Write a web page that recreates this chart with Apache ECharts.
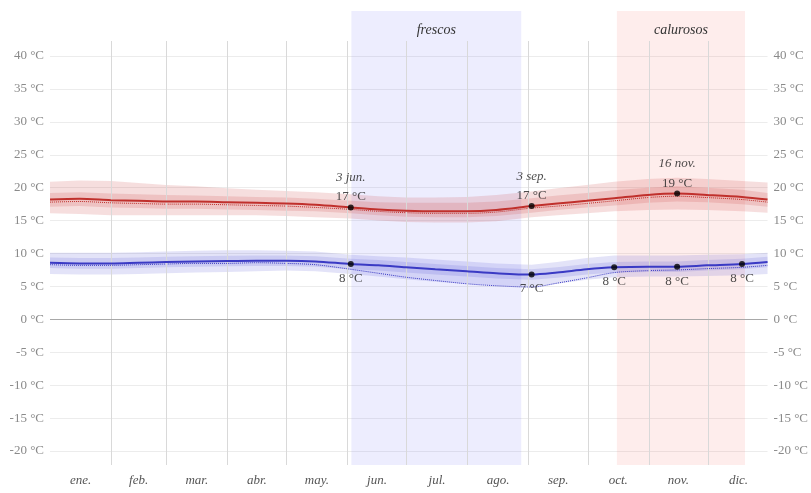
<!DOCTYPE html>
<html>
<head>
<meta charset="utf-8">
<script src="https://cdn.jsdelivr.net/npm/echarts@6/dist/echarts.min.js"></script>
<style>
  html, body { margin: 0; padding: 0; background: #fff; }
  #chart { width: 811px; height: 493px; }
</style>
</head>
<body>
<div id="chart"></div>
<script>
// Day of year (0 = 1 ene.) at which each temperature sample is taken
const DAYS = [0, 15, 31, 45, 59, 74, 90, 105, 120, 135, 153, 167, 181, 196, 212, 227, 245, 258, 273, 287, 304, 319, 334, 352, 365];

// Average daily high (°C), its feels-like value and percentile bands
const HI      = [18.2, 18.3, 18.1, 18.0, 17.9, 17.9, 17.8, 17.7, 17.6, 17.4, 17.0, 16.7, 16.5, 16.4, 16.4, 16.6, 17.2, 17.6, 18.0, 18.4, 18.9, 19.1, 18.9, 18.6, 18.2];
const HI_FEEL = [17.8, 17.9, 17.7, 17.6, 17.5, 17.5, 17.4, 17.3, 17.2, 17.0, 16.7, 16.4, 16.2, 16.1, 16.1, 16.3, 16.9, 17.2, 17.6, 18.0, 18.5, 18.7, 18.5, 18.2, 17.8];
const HI_P10  = [16.1, 16.0, 15.8, 15.8, 15.8, 15.8, 15.8, 15.8, 15.7, 15.5, 15.3, 15.0, 14.8, 14.7, 14.7, 14.9, 15.5, 15.8, 16.1, 16.4, 16.6, 16.7, 16.6, 16.4, 16.2];
const HI_P25  = [17.1, 17.2, 17.0, 16.9, 16.8, 16.8, 16.7, 16.6, 16.5, 16.4, 16.1, 15.8, 15.6, 15.5, 15.5, 15.7, 16.2, 16.6, 17.0, 17.3, 17.7, 17.9, 17.8, 17.5, 17.1];
const HI_P75  = [19.2, 19.3, 19.1, 19.0, 18.9, 18.8, 18.7, 18.6, 18.5, 18.3, 18.0, 17.8, 17.7, 17.7, 17.7, 17.9, 18.4, 18.8, 19.2, 19.6, 20.0, 20.2, 20.0, 19.7, 19.2];
const HI_P90  = [20.9, 21.1, 21.0, 20.7, 20.4, 20.2, 19.9, 19.7, 19.5, 19.3, 19.0, 18.7, 18.5, 18.5, 18.6, 18.9, 19.4, 19.9, 20.4, 20.9, 21.3, 21.5, 21.3, 21.0, 20.8];

// Average daily low (°C), its feels-like value and percentile bands
const LO      = [8.6, 8.5, 8.5, 8.6, 8.7, 8.8, 8.85, 8.9, 8.9, 8.8, 8.4, 8.2, 7.9, 7.6, 7.3, 7.0, 6.8, 7.1, 7.6, 7.9, 8.0, 8.0, 8.2, 8.4, 8.7];
const LO_FEEL = [8.3, 8.2, 8.2, 8.3, 8.4, 8.5, 8.5, 8.6, 8.5, 8.3, 7.6, 7.0, 6.4, 5.9, 5.4, 5.1, 4.9, 5.5, 6.3, 7.1, 7.4, 7.5, 7.7, 7.9, 8.2];
const LO_P10  = [6.9, 6.8, 6.8, 6.9, 7.0, 7.1, 7.2, 7.3, 7.4, 7.3, 6.9, 6.5, 6.1, 5.7, 5.4, 5.1, 4.9, 5.4, 6.0, 6.4, 6.5, 6.5, 6.6, 6.7, 6.9];
const LO_P25  = [7.8, 7.7, 7.7, 7.8, 7.9, 8.0, 8.05, 8.1, 8.1, 8.0, 7.6, 7.4, 7.1, 6.8, 6.5, 6.2, 6.0, 6.3, 6.8, 7.1, 7.2, 7.2, 7.4, 7.6, 7.9];
const LO_P75  = [9.4, 9.3, 9.3, 9.4, 9.5, 9.6, 9.65, 9.7, 9.7, 9.6, 9.2, 9.0, 8.7, 8.4, 8.1, 7.8, 7.6, 7.9, 8.4, 8.7, 8.8, 8.8, 9.0, 9.2, 9.5];
const LO_P90  = [10.1, 10.1, 10.1, 10.2, 10.3, 10.4, 10.5, 10.5, 10.4, 10.3, 9.8, 9.6, 9.4, 9.1, 8.8, 8.5, 8.3, 8.7, 9.3, 9.7, 9.7, 9.7, 9.8, 9.9, 10.1];

// Months and the day of year on which each one starts
const MONTHS = ['ene.', 'feb.', 'mar.', 'abr.', 'may.', 'jun.', 'jul.', 'ago.', 'sep.', 'oct.', 'nov.', 'dic.'];
const MONTH_START = [0, 31, 59, 90, 120, 151, 181, 212, 243, 273, 304, 334, 365];

// Seasons (day ranges)
const SEASONS = [
  { name: 'frescos',   from: 153, to: 239.2, color: 'rgba(90, 90, 250, 0.11)' },
  { name: 'calurosos', from: 287.8, to: 352.8, color: 'rgba(245, 90, 80, 0.11)' }
];

// Highlighted days
const HI_MARKS = [
  { day: 153, date: '3 jun.' },
  { day: 245, date: '3 sep.' },
  { day: 319, date: '16 nov.' }
];
const LO_MARKS = [153, 245, 287, 319, 352];

// Y-axis ticks
const Y_MIN = -20, Y_MAX = 40, Y_STEP = 5;

// Overlay axis extent (same °C scale, taller area for season bands)
const OV_MIN = -22.13, OV_MAX = 46.84, OV_LINE_TOP = 42.28;

const SERIF = '"Liberation Serif", "DejaVu Serif", serif';
const RED = '#c0302c';
const BLUE = '#3a3ac4';

const pts = arr => DAYS.map((d, i) => [d, arr[i]]);
const valAt = (arr, day) => arr[DAYS.indexOf(day)];
const mids = MONTHS.map((m, i) => (MONTH_START[i] + MONTH_START[i + 1]) / 2);

// Filled range between two percentile curves
function band(lower, upper, color) {
  return {
    type: 'custom', xAxisIndex: 0, yAxisIndex: 0, silent: true, z: 3,
    data: [[DAYS[0], lower[0]]],
    renderItem: (params, api) => {
      const top = DAYS.map((d, i) => api.coord([d, upper[i]]));
      const bottom = DAYS.map((d, i) => api.coord([d, lower[i]])).reverse();
      return {
        type: 'polygon',
        shape: { points: top.concat(bottom) },
        style: { fill: color }
      };
    }
  };
}

const chart = echarts.init(document.getElementById('chart'), null, { renderer: 'canvas' });

const series = [
  // season backgrounds and month dividers
  {
    type: 'line', xAxisIndex: 1, yAxisIndex: 2, data: [[0, 0]], showSymbol: false,
    lineStyle: { opacity: 0 }, silent: true, z: 1,
    markArea: {
      silent: true,
      data: SEASONS.map(s => [
        { xAxis: s.from, yAxis: OV_MIN, name: s.name, itemStyle: { color: s.color } },
        { xAxis: s.to, yAxis: OV_MAX }
      ]),
      label: {
        show: true, position: 'insideTop', distance: 12,
        fontFamily: SERIF, fontStyle: 'italic', fontSize: 14, color: '#333'
      }
    },
    markLine: {
      silent: true, symbol: 'none',
      lineStyle: { color: '#d9d9d9', width: 1, type: 'solid' },
      label: { show: false },
      data: MONTH_START.slice(1, 12).map(d => [
        { xAxis: d, yAxis: OV_MIN }, { xAxis: d, yAxis: OV_LINE_TOP }
      ])
    }
  },
  // freezing line
  {
    type: 'line', xAxisIndex: 0, yAxisIndex: 0, data: [[0, 0]], showSymbol: false,
    lineStyle: { opacity: 0 }, silent: true, z: 2,
    markLine: {
      silent: true, symbol: 'none', label: { show: false },
      lineStyle: { color: '#a8a8a8', width: 1, type: 'solid' },
      data: [{ yAxis: 0 }]
    }
  },
  band(HI_P10, HI_P90, 'rgba(200, 60, 60, 0.17)'),
  band(HI_P25, HI_P75, 'rgba(200, 60, 60, 0.17)'),
  band(LO_P10, LO_P90, 'rgba(70, 70, 210, 0.15)'),
  band(LO_P25, LO_P75, 'rgba(70, 70, 210, 0.15)'),
  {
    type: 'line', xAxisIndex: 0, yAxisIndex: 0, smooth: 0.3, data: pts(HI_FEEL),
    showSymbol: false, silent: true, z: 4,
    lineStyle: { color: RED, width: 1, type: 'dotted' }
  },
  {
    type: 'line', xAxisIndex: 0, yAxisIndex: 0, smooth: 0.3, data: pts(LO_FEEL),
    showSymbol: false, silent: true, z: 4,
    lineStyle: { color: BLUE, width: 1, type: 'dotted' }
  },
  {
    type: 'line', xAxisIndex: 0, yAxisIndex: 0, smooth: 0.3, data: pts(HI),
    showSymbol: false, silent: true, z: 5,
    lineStyle: { color: RED, width: 2 }
  },
  {
    type: 'line', xAxisIndex: 0, yAxisIndex: 0, smooth: 0.3, data: pts(LO),
    showSymbol: false, silent: true, z: 5,
    lineStyle: { color: BLUE, width: 2 }
  },
  // highlighted highs
  {
    type: 'scatter', xAxisIndex: 0, yAxisIndex: 0, z: 6, silent: true,
    symbolSize: 6, itemStyle: { color: '#000' },
    data: HI_MARKS.map(m => ({ value: [m.day, valAt(HI, m.day)], date: m.date })),
    label: {
      show: true, position: 'top', distance: 1,
      formatter: p => '{d|' + p.data.date + '}\n{v|' + Math.round(p.value[1]) + ' °C}',
      rich: {
        d: { fontFamily: SERIF, fontStyle: 'italic', fontSize: 13, color: '#222', lineHeight: 26, align: 'center' },
        v: { fontFamily: SERIF, fontSize: 13, color: '#222', lineHeight: 13, align: 'center' }
      }
    }
  },
  // highlighted lows
  {
    type: 'scatter', xAxisIndex: 0, yAxisIndex: 0, z: 6, silent: true,
    symbolSize: 6, itemStyle: { color: '#000' },
    data: LO_MARKS.map(d => [d, valAt(LO, d)]),
    label: {
      show: true, position: 'bottom', distance: 5,
      formatter: p => Math.round(p.value[1]) + ' °C',
      fontFamily: SERIF, fontSize: 13, color: '#222'
    }
  }
];

const yLabel = {
  fontFamily: SERIF, fontSize: 13, color: '#8a8a8a', margin: 6,
  formatter: v => v + ' °C'
};

chart.setOption({
  animation: false,
  backgroundColor: '#fff',
  grid: [
    { left: 50, right: 42, top: 56, bottom: 42, containLabel: false },
    { left: 50, right: 42, top: 11, bottom: 28, containLabel: false }
  ],
  xAxis: [
    {
      type: 'value', gridIndex: 0, min: 0, max: 365,
      axisLine: { show: false }, axisTick: { show: false },
      axisLabel: { show: false }, splitLine: { show: false }
    },
    {
      type: 'value', gridIndex: 1, min: 0, max: 365, interval: 0.5,
      axisLine: { show: false }, axisTick: { show: false }, splitLine: { show: false },
      axisLabel: {
        show: true, margin: 9, fontFamily: SERIF, fontStyle: 'italic', fontSize: 13, color: '#555',
        showMinLabel: false, showMaxLabel: false,
        formatter: v => {
          const i = mids.findIndex(m => Math.abs(m - v) < 0.01);
          return i >= 0 ? MONTHS[i] : '';
        }
      }
    }
  ],
  yAxis: [
    {
      type: 'value', gridIndex: 0, min: Y_MIN, max: Y_MAX, interval: Y_STEP, position: 'left',
      axisLine: { show: false }, axisTick: { show: false },
      axisLabel: yLabel,
      splitLine: { show: true, lineStyle: { color: '#ececec', width: 1 } }
    },
    {
      type: 'value', gridIndex: 0, min: Y_MIN, max: Y_MAX, interval: Y_STEP, position: 'right',
      axisLine: { show: false }, axisTick: { show: false },
      axisLabel: Object.assign({}, yLabel, { align: 'left' }),
      splitLine: { show: false }
    },
    {
      type: 'value', gridIndex: 1, min: OV_MIN, max: OV_MAX, show: false,
      splitLine: { show: false }
    }
  ],
  series: series
});
</script>
</body>
</html>
